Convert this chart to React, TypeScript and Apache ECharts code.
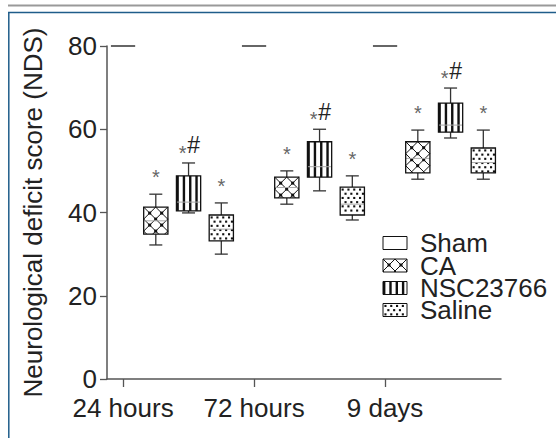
import React, { useEffect, useRef } from 'react';
import * as echarts from 'echarts';

const categories = ['24 hours', '72 hours', '9 days'];
const groupNames = ['Sham', 'CA', 'NSC23766', 'Saline'];
// [min, Q1, median, Q3, max] for each time point
const shamValues = [
  [80, 80, 80, 80, 80],
  [80, 80, 80, 80, 80],
  [80, 80, 80, 80, 80],
];
const caValues = [
  [32.2, 34.8, 38, 41.3, 44.4],
  [42, 43.5, 46, 48.5, 50],
  [48, 49.5, 53, 57, 59.8],
];
const nscValues = [
  [39.9, 40.4, 42.5, 48.8, 51.9],
  [45.2, 48.5, 51, 57, 60],
  [57.9, 59.3, 61, 66.3, 69.9],
];
const salineValues = [
  [30, 33.2, 36, 39.4, 42.3],
  [38.2, 39.4, 42, 46.1, 48.8],
  [48, 49.5, 52, 55.5, 59.8],
];
const significance = ['', '*', '*#', '*'];
const patterns = ['none', 'lattice', 'stripes', 'dots'];
const yTickValues = [0, 20, 40, 60, 80];
const yAxisName = 'Neurological deficit score (NDS)';

const allValues = [shamValues, caValues, nscValues, salineValues];
const FONT = '"Liberation Sans", Arial, Helvetica, sans-serif';
const INK = '#111';
const FS = 26;

function patternEls(kind: string, x: number, y: number, w: number, h: number): any[] {
  const els: any[] = [];
  if (kind === 'stripes') {
    const period = 6.3;
    const sw = 2.4;
    for (let px = 0; px < w - 0.6; px += period) {
      const ww = Math.min(sw, w - px);
      els.push({ type: 'rect', shape: { x: x + px, y, width: ww, height: h }, style: { fill: INK } });
    }
  } else if (kind === 'dots') {
    const dx = 5.8;
    const dy = 4.2;
    const ds = 2.1;
    let row = 0;
    for (let py = 1.4; py + ds <= h - 0.4; py += dy, row++) {
      const off = row % 2 ? dx / 2 : 0;
      for (let px = 1.4 + off; px + ds <= w - 0.4; px += dx) {
        els.push({ type: 'rect', shape: { x: x + px, y: y + py, width: ds, height: ds }, style: { fill: INK } });
      }
    }
  } else if (kind === 'lattice') {
    const p = 12;
    const c1s: number[] = [];
    const c2s: number[] = [];
    for (let c = -Math.ceil(h / p) * p - p; c <= w + p; c += p) c1s.push(c);
    for (let c = 0; c <= w + h + p; c += p) c2s.push(c);
    const lw = 1;
    c1s.forEach((c) => {
      const t0 = Math.max(0, c);
      const t1 = Math.min(w, h + c);
      if (t1 > t0) {
        els.push({ type: 'line', shape: { x1: x + t0, y1: y + t0 - c, x2: x + t1, y2: y + t1 - c }, style: { stroke: INK, lineWidth: lw } });
      }
    });
    c2s.forEach((c) => {
      const t0 = Math.max(0, c - h);
      const t1 = Math.min(w, c);
      if (t1 > t0) {
        els.push({ type: 'line', shape: { x1: x + t0, y1: y + c - t0, x2: x + t1, y2: y + c - t1 }, style: { stroke: INK, lineWidth: lw } });
      }
    });
    const ns = 3;
    c1s.forEach((a) => {
      c2s.forEach((b) => {
        const xi = (a + b) / 2;
        const yi = (b - a) / 2;
        if (xi >= ns / 2 && xi <= w - ns / 2 && yi >= ns / 2 && yi <= h - ns / 2) {
          els.push({ type: 'rect', shape: { x: x + xi - ns / 2, y: y + yi - ns / 2, width: ns, height: ns }, style: { fill: INK } });
        }
      });
    });
  }
  return els;
}

function makeRenderItem(seriesIndex: number) {
  return (params: any, api: any) => {
    const u = api.value(0);
    const vmin = api.value(1);
    const q1 = api.value(2);
    const med = api.value(3);
    const q3 = api.value(4);
    const vmax = api.value(5);
    const cx = api.coord([u, vmin])[0];
    const yMin = api.coord([u, vmin])[1];
    const yQ1 = api.coord([u, q1])[1];
    const yMed = api.coord([u, med])[1];
    const yQ3 = api.coord([u, q3])[1];
    const yMax = api.coord([u, vmax])[1];
    const bw = api.size([0.74, 0])[0];
    const capW = 13;
    const children: any[] = [];
    const whisker = { stroke: '#333', lineWidth: 1.3 };
    if (Math.abs(yQ1 - yQ3) < 1) {
      children.push({ type: 'line', shape: { x1: cx - bw / 2, y1: yMed, x2: cx + bw / 2, y2: yMed }, style: { stroke: '#333', lineWidth: 1.5 } });
      return { type: 'group', children };
    }
    children.push({ type: 'line', shape: { x1: cx, y1: yMax, x2: cx, y2: yQ3 }, style: whisker });
    children.push({ type: 'line', shape: { x1: cx - capW / 2, y1: yMax, x2: cx + capW / 2, y2: yMax }, style: whisker });
    children.push({ type: 'line', shape: { x1: cx, y1: yQ1, x2: cx, y2: yMin }, style: whisker });
    children.push({ type: 'line', shape: { x1: cx - capW / 2, y1: yMin, x2: cx + capW / 2, y2: yMin }, style: whisker });
    const bx = cx - bw / 2;
    const by = yQ3;
    const bh = yQ1 - yQ3;
    children.push({ type: 'rect', shape: { x: bx, y: by, width: bw, height: bh }, style: { fill: '#fff' } });
    patternEls(patterns[seriesIndex], bx, by, bw, bh).forEach((e) => children.push(e));
    children.push({ type: 'line', shape: { x1: bx, y1: yMed, x2: bx + bw, y2: yMed }, style: { stroke: '#aaa', lineWidth: 1 } });
    children.push({ type: 'rect', shape: { x: bx, y: by, width: bw, height: bh }, style: { fill: 'none', stroke: INK, lineWidth: 1.3 } });
    const mark = significance[seriesIndex];
    if (mark === '*') {
      children.push({ type: 'text', x: cx, y: yMax - 17, style: { text: '*', textAlign: 'center', textVerticalAlign: 'middle', fontSize: 20, fontFamily: FONT, fill: '#666' } });
    } else if (mark === '*#') {
      children.push({ type: 'text', x: cx - 6, y: yMax - 10, style: { text: '*', textAlign: 'center', textVerticalAlign: 'middle', fontSize: 20, fontFamily: FONT, fill: '#666' } });
      children.push({ type: 'text', x: cx + 5, y: yMax - 6, style: { text: '#', textAlign: 'center', textVerticalAlign: 'bottom', fontSize: 23, fontFamily: FONT, fill: '#222' } });
    }
    return { type: 'group', children };
  };
}

function legendGraphics(): any[] {
  const els: any[] = [];
  const x0 = 383;
  const rowY = [243, 265.5, 288, 310];
  const iw = 24;
  const ih = 13;
  groupNames.forEach((name, i) => {
    const cy = rowY[i];
    const iy = cy - ih / 2;
    const children: any[] = [];
    children.push({ type: 'rect', shape: { x: x0, y: iy, width: iw, height: ih }, style: { fill: '#fff' } });
    patternEls(patterns[i], x0, iy, iw, ih).forEach((e) => children.push(e));
    children.push({ type: 'rect', shape: { x: x0, y: iy, width: iw, height: ih }, style: { fill: 'none', stroke: INK, lineWidth: 1 } });
    children.push({ type: 'text', x: 420, y: cy, style: { text: name, fontSize: FS, lineHeight: 21, fontFamily: FONT, fill: '#222', textVerticalAlign: 'middle' } });
    els.push({ type: 'group', children });
  });
  return els;
}

export default function App() {
  const ref = useRef<HTMLDivElement>(null);
  useEffect(() => {
    if (!ref.current) return;
    const chart = echarts.init(ref.current, null, { renderer: 'svg' });
    const axisColor = '#555';
    const series = allValues.map((vals, s) => ({
      type: 'custom',
      name: groupNames[s],
      renderItem: makeRenderItem(s),
      encode: { x: 0, y: [1, 2, 3, 4, 5] },
      data: vals.map((v, g) => [g * 4 + s, ...v]),
      clip: false,
    }));
    chart.setOption({
      animation: false,
      backgroundColor: '#fff',
      grid: { left: 107, right: 55, top: 46, bottom: 59, containLabel: false, outerBoundsMode: 'none' },
      xAxis: {
        type: 'value',
        min: -0.49,
        max: 11.54,
        splitLine: { show: false },
        axisLine: { show: true, onZero: false, lineStyle: { color: axisColor, width: 1.5 } },
        axisTick: { show: true, customValues: [0, 4, 8], length: 8, lineStyle: { color: axisColor, width: 1.3 } },
        axisLabel: {
          customValues: [0, 4, 8],
          formatter: (v: number) => categories[Math.round(v / 4)],
          fontSize: FS,
          fontFamily: FONT,
          color: '#222',
          margin: 16,
        },
      },
      yAxis: {
        type: 'value',
        min: 0,
        max: 80,
        interval: 20,
        name: yAxisName,
        nameLocation: 'middle',
        nameGap: 61,
        nameTextStyle: { fontSize: FS, fontFamily: FONT, color: '#222' },
        splitLine: { show: false },
        axisLine: { show: true, onZero: false, lineStyle: { color: axisColor, width: 1.5 } },
        axisTick: { show: true, length: 7, lineStyle: { color: axisColor, width: 1.3 } },
        axisLabel: {
          fontSize: FS,
          fontFamily: FONT,
          color: '#222',
          margin: 10,
          formatter: (v: number) => (yTickValues.includes(v) ? String(v) : ''),
        },
      },
      series,
      graphic: [
        { type: 'line', shape: { x1: 8, y1: 5.5, x2: 556, y2: 5.5 }, style: { stroke: '#999', lineWidth: 2 } },
        { type: 'line', shape: { x1: 8, y1: 12.5, x2: 556, y2: 12.5 }, style: { stroke: '#1f5d8a', lineWidth: 1.5 } },
        { type: 'line', shape: { x1: 8.8, y1: 12, x2: 8.8, y2: 438 }, style: { stroke: '#1f5d8a', lineWidth: 1.5 } },
        ...legendGraphics(),
      ],
    });
    return () => chart.dispose();
  }, []);
  return <div ref={ref} style={{ position: 'absolute', left: 0, top: 0, width: 556, height: 438, background: '#fff' }} />;
}
